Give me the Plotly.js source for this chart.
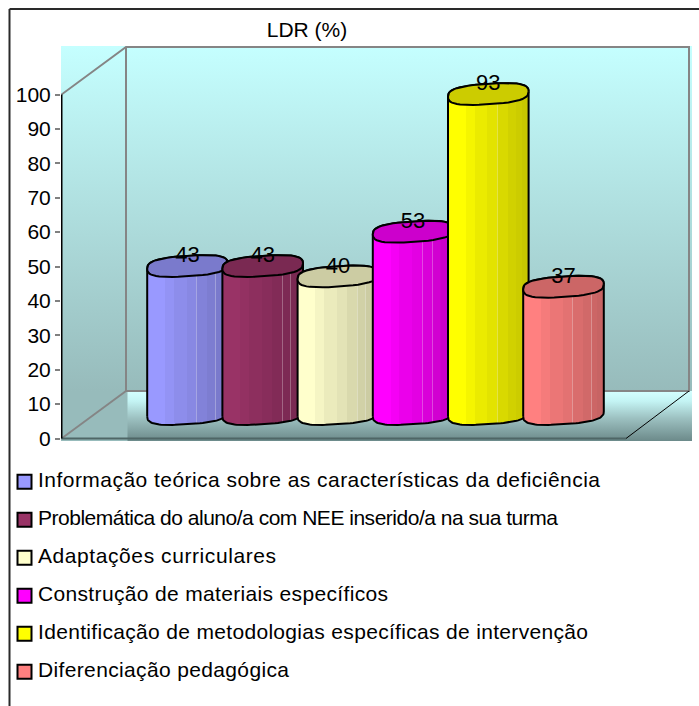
<!DOCTYPE html>
<html><head><meta charset="utf-8">
<script src="https://cdn.plot.ly/plotly-3.0.1.min.js"></script>
<style>html,body{margin:0;padding:0;background:#fff}#c{width:699px;height:706px}</style>
</head><body><div id="c"></div>
<script>
const categories = [
  "Informação teórica sobre as características da deficiência",
  "Problemática do aluno/a com NEE inserido/a na sua turma",
  "Adaptações curriculares",
  "Construção de materiais específicos",
  "Identificação de metodologias específicas de intervenção",
  "Diferenciação pedagógica"
];
const values = [43, 43, 40, 53, 93, 37];
const colors = ["#9999FF", "#993366", "#FFFFCC", "#FF00FF", "#FFFF00", "#FF8080"];
const yTicks = [0,10,20,30,40,50,60,70,80,90,100];
const chartTitle = "LDR (%)";
const legendWidths = [562,520,238,350,550,251];

const W=699,H=706,L=61,T=46,R=692,B=441;
const Y0=438.5,PY=3.44,SLOT=75.2,CX0=187.5;
const X=p=>(p-CX0)/SLOT, Y=p=>(Y0-p)/PY;
const DEPTH=(Y0-414)/PY, A=40.3, CAPB=10.2, SHEAR=0.065, POW=0.72;
const FONT="'Liberation Sans', Arial, sans-serif";

function shade(hex,k){const n=parseInt(hex.slice(1),16);
  return `rgb(${Math.round((n>>16&255)*k)},${Math.round((n>>8&255)*k)},${Math.round((n&255)*k)})`;}
function mixWhite(hex,k,m){const n=parseInt(hex.slice(1),16);
  const f=c=>Math.round(c*k+(255-c*k)*m);
  return `rgb(${f(n>>16&255)},${f(n>>8&255)},${f(n&255)})`;}
const bands=[[0,.22,1],[.22,.33,.96],[.33,.49,.92],[.49,.61,.89],[.61,.74,.85],[.74,.84,.82],[.84,.92,.8],[.92,1,.78]];
function bodyScale(hex){const s=[];
  bands.forEach(([a,b,k],j)=>{
    const c=shade(hex,k);
    if(j>=4&&j<=6){const l=mixWhite(hex,k,.28);s.push([a,l],[a+.008,l],[a+.008,c],[b,c]);}
    else s.push([a,c],[b,c]);
  });return s;}
function capPoint(t){const c=Math.cos(t),s=Math.sin(t);
  const px=A*Math.sign(c)*Math.pow(Math.abs(c),POW);
  const py=CAPB*Math.sign(s)*Math.pow(Math.abs(s),POW)-SHEAR*px;
  return [px,py];}
function arc(i,v,a0,a1){const xs=[],ys=[];
  for(let n=0;n<=48;n++){const [px,py]=capPoint(a0+(a1-a0)*n/48);
    xs.push(i+px/SLOT);ys.push(v+DEPTH-py/PY);}
  return [xs,ys];}

const traces=[];
traces.push({x:[X(L),X(R),X(R),X(L),X(L)],y:[Y(T),Y(T),Y(B),Y(B),Y(T)],mode:'none',fill:'toself',hoverinfo:'skip',showlegend:false,
  fillgradient:{type:'vertical',start:Y(B),stop:Y(T),colorscale:[[0,'#97BBBB'],[50/395,'#97BBBB'],[1,'#C5FFFF']]}});
traces.push({x:[X(127.5),X(R),X(R),X(127.5),X(127.5)],y:[Y(391),Y(391),Y(B),Y(B),Y(391)],mode:'none',fill:'toself',hoverinfo:'skip',showlegend:false,
  fillgradient:{type:'vertical',start:Y(B),stop:Y(391),colorscale:[[0,'#6C8A8A'],[.45,'#9CC0C0'],[.8,'#C4F4F4'],[1,'#D4FFFF']]}});
traces.push({x:[X(61.5),X(126),X(689),X(689),X(126),X(126),null,X(126),X(61.5)],
  y:[Y(94.5),Y(47),Y(47),Y(391),Y(391),Y(47),null,Y(391),Y(438.5)],mode:'lines',hoverinfo:'skip',showlegend:false,
  line:{color:'#858585',width:2}});
traces.push({x:[X(61.5),X(626)],y:[0,0],mode:'lines',hoverinfo:'skip',showlegend:false,line:{color:'#4F6666',width:2}});
traces.push({x:[X(626),X(689)],y:[0,Y(391)],mode:'lines',hoverinfo:'skip',showlegend:false,line:{color:'#000',width:1}});
traces.push({x:[X(61.5),X(61.5)],y:[0,100],mode:'lines',hoverinfo:'skip',showlegend:false,line:{color:'#000',width:2}});

values.forEach((v,i)=>{
  const [bx,by]=arc(i,0,Math.PI,0);
  const [tx,ty]=arc(i,v,0,-Math.PI);
  traces.push({x:bx.concat(tx,[bx[0]]),y:by.concat(ty,[by[0]]),mode:'lines',fill:'toself',name:categories[i],showlegend:false,hoverinfo:'name',
    line:{color:'#000',width:2},fillgradient:{type:'horizontal',colorscale:bodyScale(colors[i])}});
  const [cx,cy]=arc(i,v,0,2*Math.PI);
  traces.push({x:cx,y:cy,mode:'lines',fill:'toself',hoverinfo:'skip',showlegend:false,
    line:{color:'#000',width:2},fillcolor:shade(colors[i],.8)});
});
traces.push({x:values.map((v,i)=>i),y:values.map(v=>v+DEPTH+(CAPB-1)/PY),text:values.map(String),mode:'text',textposition:'middle center',
  textfont:{family:FONT,size:22,color:'#000'},hoverinfo:'skip',showlegend:false,cliponaxis:false});

const pw=R-L,ph=B-T;
const PX=p=>(p-L)/pw, PYF=p=>(B-p)/ph;
const shapes=[
 {type:'line',xref:'paper',yref:'paper',x0:PX(9.5),x1:PX(699),y0:PYF(9),y1:PYF(9),line:{color:'#2A2A2A',width:2}},
 {type:'line',xref:'paper',yref:'paper',x0:PX(9.5),x1:PX(9.5),y0:PYF(9),y1:PYF(706),line:{color:'#2A2A2A',width:2}}
];
const annotations=[];
categories.forEach((c,i)=>{
  const cy=481.7+38*i;
  shapes.push({type:'rect',xref:'paper',yref:'paper',x0:PX(17.5),x1:PX(31.5),y0:PYF(cy-7),y1:PYF(cy+7),fillcolor:colors[i],line:{color:'#000',width:2}});
  annotations.push({xref:'paper',yref:'paper',x:PX(38),y:PYF(cy-2.5),xanchor:'left',yanchor:'middle',text:c,showarrow:false,
    font:{family:FONT,size:21,color:'#000'}});
});

const layout={width:W,height:H,margin:{l:L,t:T,r:W-R,b:H-B,pad:0},paper_bgcolor:'#fff',plot_bgcolor:'rgba(0,0,0,0)',showlegend:false,
  title:{text:chartTitle,x:307/W,xanchor:'center',y:1-30/H,yanchor:'middle',font:{family:FONT,size:21,color:'#000'}},
  xaxis:{visible:false,range:[X(L),X(R)],fixedrange:true},
  yaxis:{range:[Y(B),Y(T)],tickvals:yTicks,ticks:'outside',ticklen:5,tickwidth:1.5,tickcolor:'#808080',showgrid:false,zeroline:false,showline:false,
    tickfont:{family:FONT,size:21,color:'#000'},fixedrange:true},
  shapes,annotations};
Plotly.newPlot('c',traces,layout,{displayModeBar:false,responsive:false}).then(gd=>{
  gd.querySelectorAll('.annotation').forEach(a=>{
    const t=a.querySelector('text'),i=+a.getAttribute('data-index');
    t.setAttribute('textLength',legendWidths[i]);
    t.setAttribute('lengthAdjust','spacing');
    const box=t.getBoundingClientRect(),host=gd.getBoundingClientRect();
    const x=parseFloat(t.getAttribute('x'))||0;
    t.setAttribute('x',x+(38-(box.left-host.left)));
  });
});
</script></body></html>
